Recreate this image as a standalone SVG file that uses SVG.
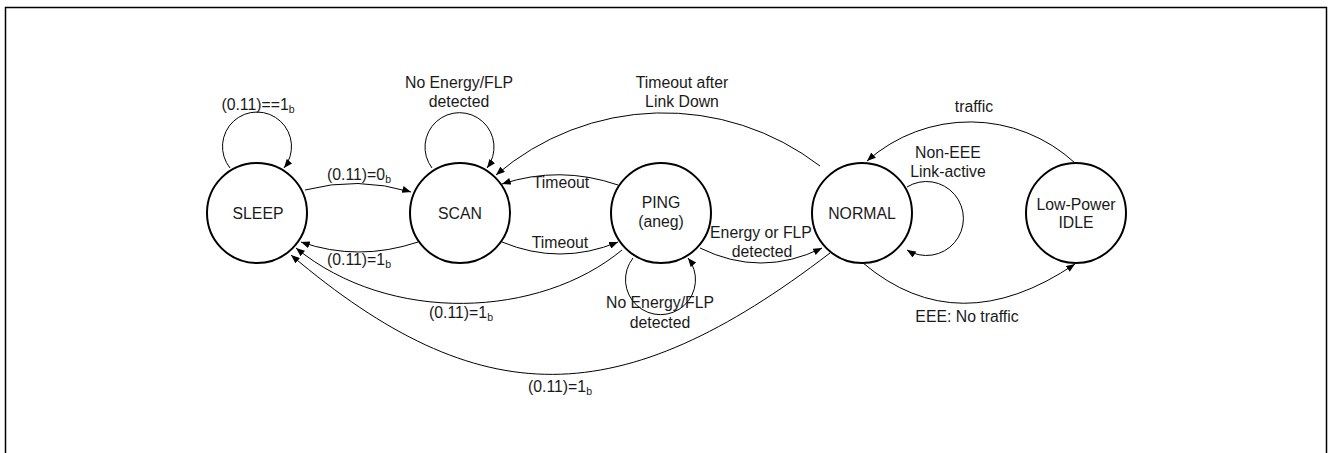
<svg xmlns="http://www.w3.org/2000/svg" width="1329" height="453" viewBox="0 0 1329 453">
<style>
.st{fill:#fff;stroke:#000;stroke-width:2}
.c{fill:none;stroke:#000;stroke-width:1;marker-end:url(#ah)}
text{font-family:"Liberation Sans",Arial,sans-serif;font-size:15.8px;fill:#1a1a1a;text-anchor:middle}
.sub{font-size:10.5px}
</style>
<defs>
<marker id="ah" viewBox="0 0 10 8" refX="10" refY="4" markerWidth="9" markerHeight="7" markerUnits="userSpaceOnUse" orient="auto">
<path d="M0,0 L10,4 L0,8 z" fill="#000"/>
</marker>
</defs>
<rect x="5.5" y="7.5" width="1321" height="470" fill="#fff" stroke="#000" stroke-width="1.5"/>
<g id="connectors">
<path class="c" d="M230,168 A34.5,34.5 0 1,1 284,168"/>
<path class="c" d="M305,190 Q358,176 411,192"/>
<path class="c" d="M418,242 Q358,262 301,242"/>
<path class="c" d="M622,250 C540,318 390,325 296,248"/>
<path class="c" d="M830,253 C620,414 480,415 291,255"/>
<path class="c" d="M432,168 A34.5,34.5 0 1,1 487,168"/>
<path class="c" d="M618,185 Q560,165 502,184"/>
<path class="c" d="M502,242 Q560,266 618,242"/>
<path class="c" d="M820,166 A257,257 0 0,0 496,175"/>
<path class="c" d="M633,258 A35,35 0 1,0 688,258"/>
<path class="c" d="M700,248 Q761,278 822,248"/>
<path class="c" d="M907,187 A37,37 0 1,1 907,250"/>
<path class="c" d="M1075,163 A155,155 0 0,0 867,161"/>
<path class="c" d="M863,263 Q958,343 1075,264"/>
</g>
<g id="labels">
<text x="258" y="110">(0.11)==1<tspan class="sub" dy="3">b</tspan></text>
<text x="359" y="180">(0.11)=0<tspan class="sub" dy="3">b</tspan></text>
<text x="359" y="265">(0.11)=1<tspan class="sub" dy="3">b</tspan></text>
<text x="461" y="318">(0.11)=1<tspan class="sub" dy="3">b</tspan></text>
<text x="560" y="392">(0.11)=1<tspan class="sub" dy="3">b</tspan></text>
<text x="459" y="88">No Energy/FLP</text>
<text x="459" y="107">detected</text>
<text x="561" y="188">Timeout</text>
<text x="560" y="248">Timeout</text>
<text x="682" y="88">Timeout after</text>
<text x="682" y="107">Link Down</text>
<text x="660" y="308">No Energy/FLP</text>
<text x="660" y="328">detected</text>
<text x="761" y="238">Energy or FLP</text>
<text x="762" y="257">detected</text>
<text x="948" y="158">Non-EEE</text>
<text x="948" y="177">Link-active</text>
<text x="974" y="112">traffic</text>
<text x="967" y="322">EEE: No traffic</text>
</g>
<g id="sleep"><circle class="st" cx="257" cy="213" r="50"/><text x="258" y="219">SLEEP</text></g>
<g id="scan"><circle class="st" cx="460" cy="213" r="50"/><text x="460" y="219">SCAN</text></g>
<g id="ping"><circle class="st" cx="661" cy="213" r="50"/><text x="661" y="208">PING</text><text x="661" y="227">(aneg)</text></g>
<g id="normal"><circle class="st" cx="862" cy="213" r="50"/><text x="862" y="219">NORMAL</text></g>
<g id="lowpower"><circle class="st" cx="1076" cy="213" r="50"/><text x="1076" y="210">Low-Power</text><text x="1076" y="228">IDLE</text></g>
</svg>
